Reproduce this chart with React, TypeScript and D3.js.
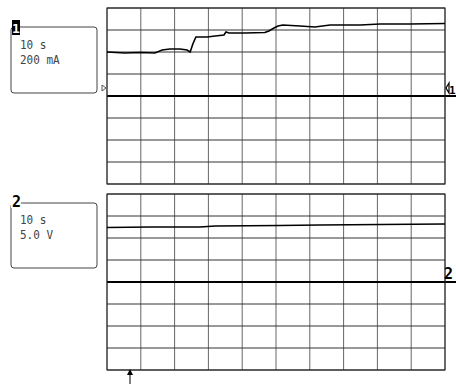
import React from 'react';
import * as d3 from 'd3';

// time in s, current in mA (channel 1)
const ch1Time = [0, 5.3, 9.8, 14.2, 16.3, 18.6, 21.6, 23.7, 24.6, 25.4, 26.3, 29.6, 32, 34.6, 35.2, 36.1, 40.8, 46.7, 47.9, 49.4, 50.6, 52, 57.1, 61.5, 66, 74.9, 80.8, 89.6, 100];
const ch1Current = [400, 391, 395, 391, 418, 427, 427, 418, 400, 473, 536, 536, 545, 555, 582, 573, 573, 577, 591, 618, 636, 645, 636, 627, 645, 645, 655, 655, 659];

// time in s, voltage in V (channel 2)
const ch2Time = [0, 12.7, 27.5, 32, 51, 63, 80.8, 100];
const ch2Voltage = [12.4, 12.5, 12.5, 12.73, 12.84, 12.95, 13.07, 13.18];

const timeDivs = d3.range(0, 101, 10);
const vDivs = d3.range(-4, 5, 1);

const mono = "'DejaVu Sans Mono', monospace";

const Panel = ({ top, perDiv, times, values }) => {
  const left = 107;
  const right = 445;
  const bottom = top + 176;
  const x = d3.scaleLinear().domain([0, 100]).range([left, right]);
  const y = d3.scaleLinear().domain([-4 * perDiv, 4 * perDiv]).range([bottom, top]);
  const line = d3.line<number>().x((_, i) => x(times[i])).y(d => y(d));
  return (
    <g>
      {timeDivs.map(t => (
        <line key={'v' + t} x1={x(t)} x2={x(t)} y1={top} y2={bottom} stroke="#666" strokeWidth={1} />
      ))}
      {vDivs.map(v => (
        <line key={'h' + v} x1={left} x2={v === 0 ? 456 : right} y1={y(v * perDiv)} y2={y(v * perDiv)}
          stroke={v === 0 ? '#000' : '#333'} strokeWidth={v === 0 ? 2 : 1} />
      ))}
      <rect x={left} y={top} width={right - left} height={bottom - top} fill="none" stroke="#222" strokeWidth={1} />
      <path d={line(values) || ''} fill="none" stroke="#000" strokeWidth={1.6} />
    </g>
  );
};

const App = () => {
  return (
    <svg width={456} height={384} style={{ position: 'absolute', left: 0, top: 0, background: '#fff' }}>
      <rect width={456} height={384} fill="#fff" />
      <Panel top={8} perDiv={200} times={ch1Time} values={ch1Current} />
      <Panel top={194} perDiv={5} times={ch2Time} values={ch2Voltage} />

      {/* channel 1 box */}
      <rect x={11} y={27} width={86} height={66} rx={3} fill="none" stroke="#444" strokeWidth={1} />
      <rect x={12} y={20} width={8} height={15} fill="#000" />
      <text x={16} y={33} textAnchor="middle" fontFamily={mono} fontWeight="bold" fontSize={13} fill="#fff">1</text>
      <g fontFamily={mono} fontSize={11} fill="#444">
        <text transform="translate(20,49) scale(1,1.1)">10 s</text>
        <text transform="translate(20,64) scale(1,1.1)">200 mA</text>
      </g>
      <polygon points="102,85 106,88 102,91" fill="none" stroke="#555" strokeWidth={1} />
      <polygon points="449,83 446,88 449,93" fill="none" stroke="#000" strokeWidth={1.2} />
      <text x={449} y={94} fontFamily={mono} fontWeight="bold" fontSize={11} fill="#000">1</text>

      {/* channel 2 box */}
      <rect x={11} y={203} width={86} height={65} rx={3} fill="none" stroke="#444" strokeWidth={1} />
      <rect x={11} y={196} width={10} height={12} fill="#fff" />
      <text x={12} y={207} fontFamily={mono} fontWeight="bold" fontSize={15} fill="#000">2</text>
      <g fontFamily={mono} fontSize={11} fill="#444">
        <text transform="translate(20,224) scale(1,1.1)">10 s</text>
        <text transform="translate(20,239) scale(1,1.1)">5.0 V</text>
      </g>
      <text x={444} y={279} fontFamily={mono} fontWeight="bold" fontSize={15} fill="#000">2</text>

      {/* trigger arrow */}
      <line x1={130} x2={130} y1={371} y2={384} stroke="#000" strokeWidth={1} />
      <polygon points="127,375 130,369 133,375" fill="#000" />
    </svg>
  );
};

export default App;
